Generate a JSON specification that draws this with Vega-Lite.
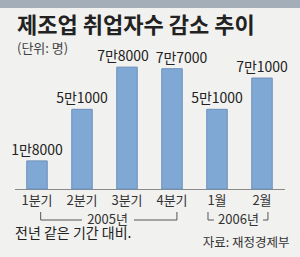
{
  "$schema": "https://vega.github.io/schema/vega-lite/v6.json",
  "autosize": "none",
  "width": 270,
  "height": 125,
  "padding": {"left": 14.5, "top": 64, "right": 15.5, "bottom": 68},
  "background": "#f1f1ef",
  "config": {
    "view": {"stroke": null},
    "font": "Noto Sans CJK KR",
    "text": {"font": "Noto Sans CJK KR"}
  },
  "title": {
    "text": "제조업 취업자수 감소 추이",
    "subtitle": "(단위: 명)",
    "anchor": "start",
    "frame": "group",
    "dx": 2.5,
    "offset": -57,
    "font": "Noto Sans CJK KR",
    "fontSize": 22,
    "fontWeight": "bold",
    "color": "#222222",
    "subtitleFont": "Noto Sans CJK KR",
    "subtitleFontSize": 13,
    "subtitleColor": "#444444",
    "subtitlePadding": 5
  },
  "data": {
    "values": [
      {"cat": "1분기", "value": 18000, "label": "1만8000"},
      {"cat": "2분기", "value": 51000, "label": "5만1000"},
      {"cat": "3분기", "value": 78000, "label": "7만8000"},
      {"cat": "4분기", "value": 77000, "label": "7만7000"},
      {"cat": "1월", "value": 51000, "label": "5만1000"},
      {"cat": "2월", "value": 71000, "label": "7만1000"}
    ]
  },
  "layer": [
    {
      "mark": {"type": "bar", "fill": "#80a8d4", "stroke": "#6b8fbb", "strokeWidth": 1},
      "encoding": {
        "x": {
          "field": "cat",
          "type": "nominal",
          "sort": null,
          "scale": {"domain": ["1분기", "2분기", "3분기", "4분기", "1월", "2월"], "paddingInner": 0.545, "paddingOuter": 0.2725},
          "axis": {
            "title": null,
            "labelAngle": 0,
            "labelFont": "Noto Sans CJK KR",
            "labelFontSize": 13,
            "labelColor": "#333333",
            "labelDx": -4,
            "labelPadding": 5,
            "ticks": false,
            "tickSize": 0,
            "domainColor": "#8a8a8a",
            "domainWidth": 1
          }
        },
        "y": {
          "field": "value",
          "type": "quantitative",
          "scale": {"domain": [0, 80000], "nice": false, "zero": true},
          "axis": null
        }
      }
    },
    {
      "transform": [{"filter": {"field": "cat", "oneOf": ["1분기", "2분기", "1월", "2월"]}}],
      "mark": {"type": "text", "fontSize": 14, "color": "#222222", "baseline": "alphabetic", "dy": -6},
      "encoding": {
        "x": {"field": "cat", "type": "nominal", "sort": null},
        "y": {"field": "value", "type": "quantitative"},
        "text": {"field": "label"}
      }
    },
    {
      "transform": [{"filter": {"field": "cat", "equal": "3분기"}}],
      "mark": {"type": "text", "fontSize": 14, "color": "#222222", "baseline": "alphabetic", "dy": -6, "dx": -4},
      "encoding": {
        "x": {"field": "cat", "type": "nominal", "sort": null},
        "y": {"field": "value", "type": "quantitative"},
        "text": {"field": "label"}
      }
    },
    {
      "transform": [{"filter": {"field": "cat", "equal": "4분기"}}],
      "mark": {"type": "text", "fontSize": 14, "color": "#222222", "baseline": "alphabetic", "dy": -6, "dx": 9.5},
      "encoding": {
        "x": {"field": "cat", "type": "nominal", "sort": null},
        "y": {"field": "value", "type": "quantitative"},
        "text": {"field": "label"}
      }
    },
    {
      "data": {"values": [{}]},
      "mark": {"type": "rule", "color": "#a3aeb8", "strokeWidth": 8, "strokeCap": "butt", "clip": false, "xOffset": -27, "x2Offset": 28},
      "encoding": {
        "x": {"datum": "1분기", "bandPosition": 0},
        "x2": {"datum": "2월", "bandPosition": 1},
        "y": {"datum": 118400}
      }
    },
    {
      "data": {"values": [{}]},
      "mark": {"type": "rule", "color": "#555555", "strokeWidth": 1, "clip": false},
      "encoding": {
        "x": {"datum": "1분기", "bandPosition": 0.68},
        "y": {"datum": -14720},
        "y2": {"datum": -19840}
      }
    },
    {
      "data": {"values": [{}]},
      "mark": {"type": "rule", "color": "#555555", "strokeWidth": 1, "clip": false},
      "encoding": {
        "x": {"datum": "4분기", "bandPosition": 0.74},
        "y": {"datum": -14720},
        "y2": {"datum": -19840}
      }
    },
    {
      "data": {"values": [{}]},
      "mark": {"type": "rule", "color": "#555555", "strokeWidth": 1, "clip": false},
      "encoding": {
        "x": {"datum": "1분기", "bandPosition": 0.68},
        "x2": {"datum": "2분기", "bandPosition": 0.5},
        "y": {"datum": -19840}
      }
    },
    {
      "data": {"values": [{}]},
      "mark": {"type": "rule", "color": "#555555", "strokeWidth": 1, "clip": false},
      "encoding": {
        "x": {"datum": "3분기", "bandPosition": 0.84},
        "x2": {"datum": "4분기", "bandPosition": 0.74},
        "y": {"datum": -19840}
      }
    },
    {
      "data": {"values": [{}]},
      "mark": {"type": "text", "text": "2005년", "fontSize": 13, "color": "#333333", "baseline": "middle", "align": "center", "clip": false},
      "encoding": {
        "x": {"datum": "3분기", "bandPosition": -0.45},
        "y": {"datum": -19840}
      }
    },
    {
      "data": {"values": [{}]},
      "mark": {"type": "rule", "color": "#555555", "strokeWidth": 1, "clip": false},
      "encoding": {
        "x": {"datum": "1월", "bandPosition": 0.06},
        "y": {"datum": -14720},
        "y2": {"datum": -19840}
      }
    },
    {
      "data": {"values": [{}]},
      "mark": {"type": "rule", "color": "#555555", "strokeWidth": 1, "clip": false},
      "encoding": {
        "x": {"datum": "2월", "bandPosition": 0.79},
        "y": {"datum": -14720},
        "y2": {"datum": -19840}
      }
    },
    {
      "data": {"values": [{}]},
      "mark": {"type": "rule", "color": "#555555", "strokeWidth": 1, "clip": false},
      "encoding": {
        "x": {"datum": "1월", "bandPosition": 0.06},
        "x2": {"datum": "1월", "bandPosition": 0.35},
        "y": {"datum": -19840}
      }
    },
    {
      "data": {"values": [{}]},
      "mark": {"type": "rule", "color": "#555555", "strokeWidth": 1, "clip": false},
      "encoding": {
        "x": {"datum": "2월", "bandPosition": 0.55},
        "x2": {"datum": "2월", "bandPosition": 0.79},
        "y": {"datum": -19840}
      }
    },
    {
      "data": {"values": [{}]},
      "mark": {"type": "text", "text": "2006년", "fontSize": 13, "color": "#333333", "baseline": "middle", "align": "center", "clip": false},
      "encoding": {
        "x": {"datum": "2월", "bandPosition": -0.65},
        "y": {"datum": -19840}
      }
    },
    {
      "data": {"values": [{}]},
      "mark": {"type": "text", "text": "전년 같은 기간 대비.", "fontSize": 14, "color": "#222222", "baseline": "middle", "align": "left", "clip": false},
      "encoding": {
        "x": {"datum": "1분기", "bandPosition": -0.57},
        "y": {"datum": -28800}
      }
    },
    {
      "data": {"values": [{}]},
      "mark": {"type": "text", "text": "자료: 재정경제부", "fontSize": 12.5, "color": "#333333", "baseline": "middle", "align": "right", "clip": false},
      "encoding": {
        "x": {"datum": "2월", "bandPosition": 1.84},
        "y": {"datum": -34240}
      }
    }
  ]
}
